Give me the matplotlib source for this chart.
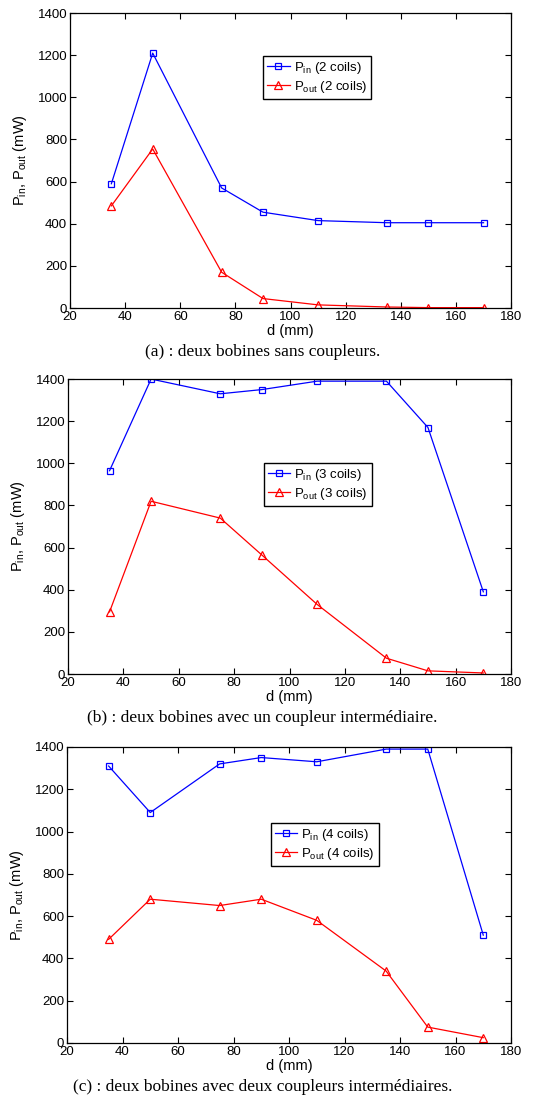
import matplotlib
matplotlib.use("Agg")
import matplotlib.pyplot as plt

plt.rcParams['font.family'] = ['Liberation Sans', 'DejaVu Sans']
plt.rcParams['mathtext.fontset'] = 'custom'
plt.rcParams['mathtext.rm'] = 'Liberation Sans'
plt.rcParams['mathtext.it'] = 'Liberation Sans'

d_mm = [35, 50, 75, 90, 110, 135, 150, 170]

pin_2 = [590, 1210, 570, 455, 415, 405, 405, 405]
pout_2 = [485, 755, 170, 45, 15, 5, 2, 2]

pin_3 = [965, 1400, 1330, 1350, 1390, 1390, 1170, 390]
pout_3 = [295, 820, 740, 565, 330, 75, 15, 5]

pin_4 = [1310, 1090, 1320, 1350, 1330, 1390, 1390, 510]
pout_4 = [490, 680, 650, 680, 580, 340, 75, 25]

captions = ["(a) : deux bobines sans coupleurs.",
            "(b) : deux bobines avec un coupleur intermédiaire.",
            "(c) : deux bobines avec deux coupleurs intermédiaires."]
coil_counts = [2, 3, 4]
xticks = [20, 40, 60, 80, 100, 120, 140, 160, 180]
yticks = [0, 200, 400, 600, 800, 1000, 1200, 1400]

fig = plt.figure(figsize=(5.36, 10.99), dpi=100)

axes_rects = [
    [0.1306, 0.7197, 0.823, 0.2684],
    [0.1269, 0.3867, 0.8265, 0.2684],
    [0.1250, 0.0510, 0.8284, 0.2693],
]
legend_anchors = [(0.438, 0.854), (0.442, 0.715), (0.459, 0.743)]
caption_y = [0.6797, 0.3467, 0.0109]

series = [(pin_2, pout_2), (pin_3, pout_3), (pin_4, pout_4)]

for i in range(3):
    ax = fig.add_axes(axes_rects[i])
    pin, pout = series[i]
    n = coil_counts[i]
    ax.plot(d_mm, pin, color='blue', marker='s', markersize=4.5,
            markerfacecolor='none', markeredgewidth=0.9, linewidth=0.9,
            label=r'P$_{\mathrm{in}}$ (%d coils)' % n)
    ax.plot(d_mm, pout, color='red', marker='^', markersize=5.5,
            markerfacecolor='none', markeredgewidth=0.9, linewidth=0.9,
            label=r'P$_{\mathrm{out}}$ (%d coils)' % n)
    ax.set_xlim(20, 180)
    ax.set_ylim(0, 1400)
    ax.set_xticks(xticks)
    ax.set_yticks(yticks)
    ax.tick_params(direction='in', top=True, right=True, labelsize=9.5,
                   length=4, width=0.8, pad=2)
    for s in ax.spines.values():
        s.set_linewidth(0.9)
    ax.set_xlabel('d (mm)', fontsize=10.5, labelpad=1)
    ax.set_ylabel(r'P$_{\mathrm{in}}$, P$_{\mathrm{out}}$ (mW)', fontsize=10.5,
                  labelpad=6)
    leg = ax.legend(loc='upper left', bbox_to_anchor=legend_anchors[i],
                    fontsize=9.5, fancybox=False, framealpha=1,
                    edgecolor='black', handlelength=1.7, handletextpad=0.3,
                    borderpad=0.3, labelspacing=0.2, borderaxespad=0)
    leg.get_frame().set_linewidth(1.0)
    fig.text(0.49, caption_y[i], captions[i], ha='center', va='center',
             fontsize=12.5, family=['Liberation Serif', 'DejaVu Serif'])

fig.savefig('out.png', dpi=100)
